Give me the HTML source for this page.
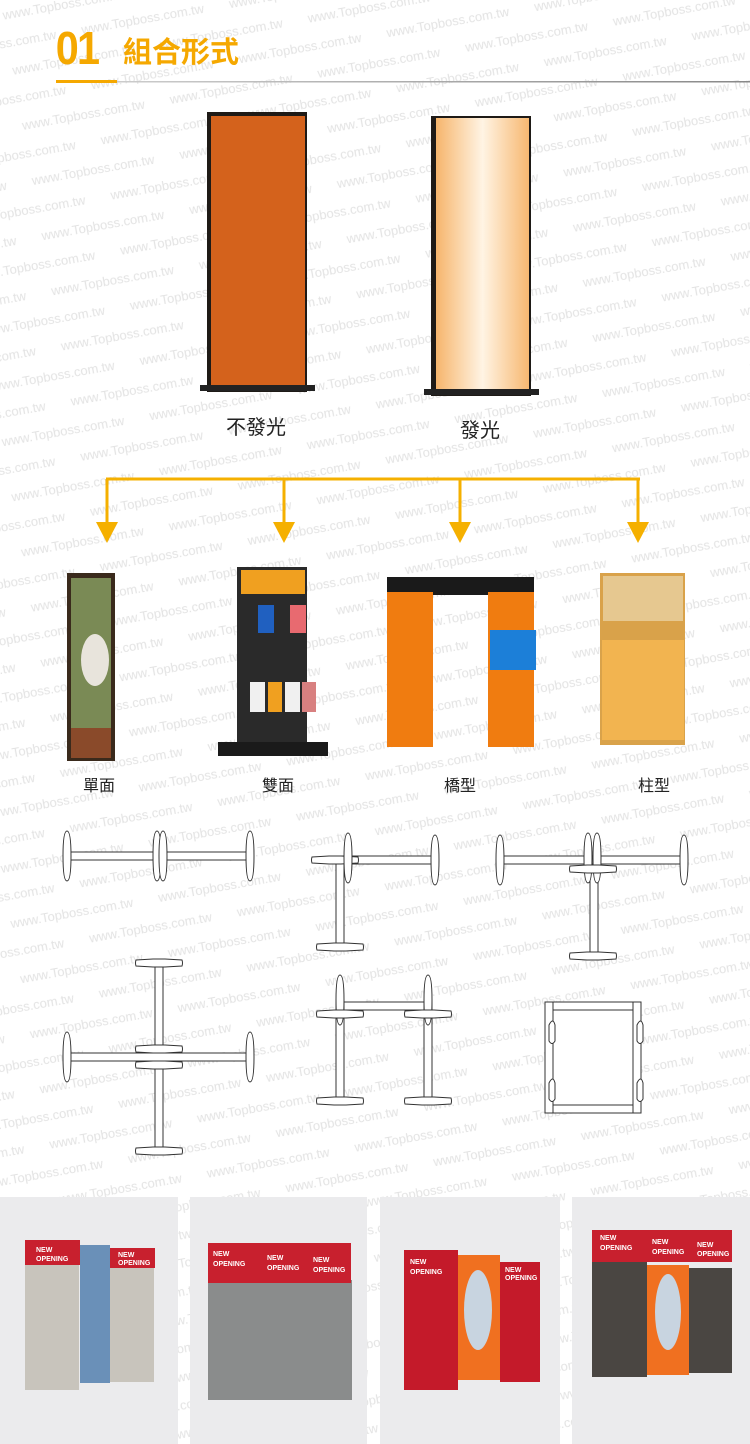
<!DOCTYPE html>
<html><head><meta charset="utf-8"><style>
html,body{margin:0;padding:0;background:#fff;}
body{width:750px;height:1444px;overflow:hidden;position:relative;font-family:"Liberation Sans","Noto Sans CJK TC",sans-serif;}
svg{position:absolute;left:0;top:0;}
</style></head><body>
<svg width="750" height="1444" viewBox="0 0 750 1444" xmlns="http://www.w3.org/2000/svg">
<defs>
<pattern id="wm" width="150" height="56" patternUnits="userSpaceOnUse" patternTransform="rotate(-10)">
<g font-family="Liberation Sans,sans-serif" font-size="13" fill="#e3e3e3">
<text x="0" y="20">www.Topboss.com.tw</text>
<text x="-150" y="20">www.Topboss.com.tw</text>
<text x="75" y="48">www.Topboss.com.tw</text>
<text x="-75" y="48">www.Topboss.com.tw</text>
</g>
</pattern>
<linearGradient id="glow" x1="0" x2="1" y1="0" y2="0">
<stop offset="0" stop-color="#f6b56c"/><stop offset="0.5" stop-color="#fff4e4"/><stop offset="1" stop-color="#f7b871"/>
</linearGradient>
<linearGradient id="hl" x1="0" x2="1"><stop offset="0" stop-color="#ccc"/><stop offset="1" stop-color="#888"/></linearGradient>
<g id="vf"><path d="M-4,0 Q-4,-25 0,-25 Q4,-25 4,0 Q4,25 0,25 Q-4,25 -4,0Z" fill="#fff" stroke="#333" stroke-width="1"/></g>
<g id="hf"><path d="M-23,-3 L-6,-4 L6,-4 L23,-3 Q24,0 23,3 L6,4 L-6,4 L-23,3 Q-24,0 -23,-3Z" fill="#fff" stroke="#333" stroke-width="1"/></g>
</defs>
<rect width="750" height="1444" fill="url(#wm)"/>

<!-- header -->
<text x="62" y="64" font-family="Liberation Sans,sans-serif" font-weight="bold" font-size="46" fill="#f5a800" transform="scale(0.9,1)" style="letter-spacing:-2px">01</text>
<text x="123" y="62" font-family="Noto Sans CJK TC,sans-serif" font-weight="bold" font-size="29" fill="#f5a800">組合形式</text>
<rect x="56" y="80" width="61" height="3" fill="#f5a800"/>
<rect x="117" y="81" width="633" height="1.5" fill="url(#hl)"/>

<!-- top panels -->
<rect x="207" y="112" width="100" height="280" fill="#1e1a16"/>
<rect x="211" y="116" width="94" height="272" fill="#d4621c"/>
<rect x="200" y="385" width="115" height="6" fill="#222"/>
<rect x="431" y="116" width="100" height="280" fill="#1e1a16"/>
<rect x="436" y="118" width="93" height="274" fill="url(#glow)"/>
<rect x="424" y="389" width="115" height="6" fill="#222"/>
<text x="256" y="434" text-anchor="middle" font-family="Noto Sans CJK TC,sans-serif" font-size="20" fill="#222">不發光</text>
<text x="480" y="437" text-anchor="middle" font-family="Noto Sans CJK TC,sans-serif" font-size="20" fill="#222">發光</text>

<!-- arrows -->
<g stroke="#f5b000" stroke-width="3" fill="none">
<line x1="106" y1="479" x2="640" y2="479"/>
<line x1="107" y1="479" x2="107" y2="525"/><line x1="284" y1="479" x2="284" y2="525"/>
<line x1="460" y1="479" x2="460" y2="525"/><line x1="638" y1="479" x2="638" y2="525"/>
</g>
<g fill="#f5b000">
<polygon points="96,522 118,522 107,543"/><polygon points="273,522 295,522 284,543"/>
<polygon points="449,522 471,522 460,543"/><polygon points="627,522 649,522 638,543"/>
</g>

<!-- product pics -->
<rect x="67" y="573" width="48" height="188" fill="#3a2a1c"/>
<rect x="71" y="578" width="40" height="150" fill="#7a8a55"/>
<ellipse cx="95" cy="660" rx="14" ry="26" fill="#e8e4dc"/>
<rect x="71" y="728" width="40" height="30" fill="#8a4a2a"/>
<rect x="237" y="567" width="70" height="180" fill="#2a2a2a"/>
<rect x="241" y="570" width="64" height="24" fill="#f0a020"/>
<rect x="218" y="742" width="110" height="14" fill="#1a1a1a"/>
<rect x="258" y="605" width="16" height="28" fill="#2060c0"/><rect x="290" y="605" width="16" height="28" fill="#e86a70"/>
<rect x="250" y="682" width="15" height="30" fill="#f0f0f0"/><rect x="268" y="682" width="14" height="30" fill="#f0a020"/><rect x="285" y="682" width="15" height="30" fill="#f0f0f0"/><rect x="302" y="682" width="14" height="30" fill="#d88080"/>
<rect x="387" y="577" width="147" height="18" fill="#1a1a1a"/>
<rect x="387" y="592" width="46" height="155" fill="#f07c10"/><rect x="488" y="592" width="46" height="155" fill="#f07c10"/>
<rect x="490" y="630" width="46" height="40" fill="#1c7fd8"/>
<rect x="600" y="573" width="85" height="172" fill="#d9a24a"/>
<rect x="603" y="576" width="80" height="45" fill="#e6c890"/>
<rect x="602" y="640" width="82" height="100" fill="#f2b450"/>
<g font-family="Noto Sans CJK TC,sans-serif" font-size="16" fill="#222" text-anchor="middle">
<text x="99" y="791">單面</text><text x="278" y="791">雙面</text><text x="460" y="791">橋型</text><text x="654" y="791">柱型</text>
</g>

<!-- line diagrams -->
<g fill="#fff" stroke="#333" stroke-width="1">
<rect x="67" y="852" width="183" height="8"/>
<use href="#vf" x="67" y="856"/><use href="#vf" x="157" y="856"/><use href="#vf" x="163" y="856"/><use href="#vf" x="250" y="856"/>
<rect x="336" y="856" width="100" height="8"/>
<rect x="336" y="860" width="8" height="88"/>
<use href="#hf" x="335" y="860"/><use href="#vf" x="348" y="858"/><use href="#vf" x="435" y="860"/>
<use href="#hf" x="340" y="947"/>
<rect x="500" y="856" width="185" height="8"/>
<rect x="590" y="864" width="8" height="93"/>
<use href="#vf" x="500" y="860"/><use href="#vf" x="588" y="858"/><use href="#vf" x="597" y="858"/><use href="#vf" x="684" y="860"/>
<use href="#hf" x="593" y="869"/><use href="#hf" x="593" y="956"/>
<rect x="155" y="962" width="8" height="190"/>
<rect x="67" y="1053" width="183" height="8"/>
<use href="#vf" x="67" y="1057"/><use href="#vf" x="250" y="1057"/>
<use href="#hf" x="159" y="963"/><use href="#hf" x="159" y="1151"/>
<use href="#hf" x="159" y="1049"/><use href="#hf" x="159" y="1065"/>
<rect x="336" y="1002" width="96" height="8"/>
<rect x="336" y="1002" width="8" height="103"/><rect x="424" y="1002" width="8" height="103"/>
<use href="#vf" x="340" y="1000"/><use href="#vf" x="428" y="1000"/>
<use href="#hf" x="340" y="1014"/><use href="#hf" x="428" y="1014"/>
<use href="#hf" x="340" y="1101"/><use href="#hf" x="428" y="1101"/>
<rect x="545" y="1002" width="96" height="111"/>
<rect x="545" y="1010" width="96" height="95"/>
<rect x="545" y="1002" width="8" height="111"/><rect x="633" y="1002" width="8" height="111"/>
<path d="M549,1025 q4,-8 6,0 l0,16 q-3,5 -6,0z"/><path d="M637,1025 q4,-8 6,0 l0,16 q-3,5 -6,0z"/>
<path d="M549,1083 q4,-8 6,0 l0,16 q-3,5 -6,0z"/><path d="M637,1083 q4,-8 6,0 l0,16 q-3,5 -6,0z"/>
</g>

<!-- bottom photos -->
<rect x="0" y="1197" width="178" height="247" fill="#ebebed"/>
<rect x="190" y="1197" width="177" height="247" fill="#ebebed"/>
<rect x="380" y="1197" width="180" height="247" fill="#ebebed"/>
<rect x="572" y="1197" width="178" height="247" fill="#ebebed"/>
<rect x="25" y="1262" width="54" height="128" fill="#c8c4bc"/><rect x="80" y="1245" width="30" height="138" fill="#6a90b8"/><rect x="110" y="1262" width="44" height="120" fill="#c8c4bc"/>
<rect x="25" y="1240" width="55" height="25" fill="#c8202e"/><rect x="110" y="1248" width="45" height="20" fill="#c8202e"/>
<rect x="208" y="1280" width="144" height="120" fill="#8a8c8c"/>
<rect x="208" y="1243" width="143" height="40" fill="#c8202e"/>
<rect x="404" y="1250" width="54" height="140" fill="#c41a2a"/><rect x="458" y="1255" width="42" height="125" fill="#f07020"/><rect x="500" y="1262" width="40" height="120" fill="#c41a2a"/>
<ellipse cx="478" cy="1310" rx="14" ry="40" fill="#c8d4e0"/>
<rect x="592" y="1262" width="55" height="115" fill="#4a4642"/><rect x="647" y="1265" width="42" height="110" fill="#f07020"/><rect x="689" y="1268" width="43" height="105" fill="#4a4642"/>
<rect x="592" y="1230" width="140" height="32" fill="#c8202e"/>
<ellipse cx="668" cy="1312" rx="13" ry="38" fill="#c8d4e0"/>
<g font-family="Liberation Sans,sans-serif" font-size="7" fill="#fff" font-weight="bold">
<text x="36" y="1252">NEW</text><text x="36" y="1261">OPENING</text>
<text x="118" y="1257">NEW</text><text x="118" y="1265">OPENING</text>
<text x="213" y="1256">NEW</text><text x="213" y="1266">OPENING</text>
<text x="267" y="1260">NEW</text><text x="267" y="1270">OPENING</text>
<text x="313" y="1262">NEW</text><text x="313" y="1272">OPENING</text>
<text x="410" y="1264">NEW</text><text x="410" y="1274">OPENING</text>
<text x="505" y="1272">NEW</text><text x="505" y="1280">OPENING</text>
<text x="600" y="1240">NEW</text><text x="600" y="1250">OPENING</text>
<text x="652" y="1244">NEW</text><text x="652" y="1254">OPENING</text>
<text x="697" y="1247">NEW</text><text x="697" y="1256">OPENING</text>
</g>
</svg>
</body></html>
